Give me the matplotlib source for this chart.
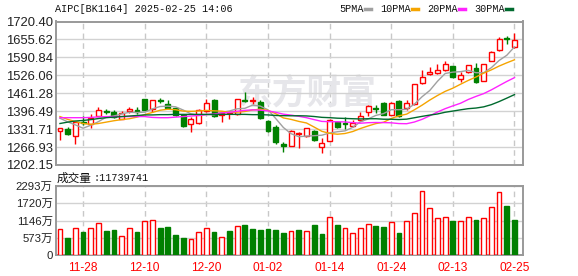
import numpy as np
import pandas as pd
import matplotlib
matplotlib.use("Agg")
import matplotlib.pyplot as plt

# daily OHLC, 60 sessions ending 2025-02-25
opens = [1326, 1331, 1306, 1356, 1350, 1380, 1398, 1394, 1368, 1396,
         1400, 1440, 1403, 1437, 1421, 1407, 1383, 1350, 1353, 1397,
         1437, 1383, 1389, 1385, 1438, 1433, 1431, 1361, 1340, 1277,
         1272, 1313, 1308, 1325, 1268, 1290, 1356, 1354, 1344, 1365,
         1393, 1407, 1425, 1383, 1433, 1407, 1421, 1497, 1530, 1535,
         1545, 1560, 1513, 1537, 1551, 1507, 1579, 1617, 1660, 1627]
highs = [1336, 1340, 1357, 1378, 1385, 1411, 1404, 1401, 1396, 1413,
         1410, 1440, 1437, 1445, 1437, 1410, 1386, 1377, 1405, 1440,
         1440, 1391, 1397, 1442, 1465, 1449, 1437, 1365, 1346, 1286,
         1327, 1322, 1337, 1330, 1299, 1367, 1360, 1374, 1365, 1395,
         1419, 1419, 1428, 1428, 1436, 1437, 1495, 1545, 1556, 1566,
         1577, 1561, 1538, 1565, 1570, 1568, 1613, 1663, 1669, 1678]
lows = [1292, 1312, 1277, 1348, 1335, 1378, 1385, 1371, 1367, 1389,
        1385, 1400, 1392, 1425, 1409, 1380, 1340, 1323, 1352, 1395,
        1377, 1357, 1367, 1383, 1431, 1422, 1368, 1320, 1278, 1250,
        1270, 1265, 1305, 1290, 1247, 1288, 1335, 1331, 1341, 1362,
        1380, 1389, 1382, 1381, 1377, 1401, 1419, 1495, 1527, 1531,
        1543, 1517, 1503, 1535, 1500, 1505, 1577, 1615, 1639, 1624]
closes = [1335, 1313, 1356, 1353, 1372, 1400, 1394, 1377, 1389, 1403,
          1394, 1402, 1436, 1432, 1409, 1383, 1343, 1368, 1401, 1425,
          1379, 1389, 1392, 1440, 1434, 1437, 1371, 1325, 1284, 1271,
          1325, 1317, 1335, 1292, 1280, 1365, 1339, 1351, 1355, 1380,
          1417, 1403, 1384, 1426, 1379, 1425, 1494, 1519, 1539, 1545,
          1566, 1519, 1527, 1563, 1502, 1566, 1611, 1656, 1657, 1654]

# volume in 万 shares, r = red bar, g = green bar
volume = [863, 575, 896, 764, 896, 1085, 808, 830, 631, 919,
          764, 1129, 1162, 896, 930, 664, 575, 531, 764, 896,
          764, 598, 808, 953, 996, 874, 841, 863, 841, 735,
          797, 830, 797, 996, 697, 1251, 996, 919, 753, 919,
          1029, 963, 930, 1096, 741, 1151, 1384, 2115, 1550, 1218,
          1251, 1129, 1151, 1251, 1162, 1218, 1584, 2082, 1627, 1174]
vol_colors = "rgrgrrggrrgrrggggrrrgrgrggggggrgrggrgrrrrggrgrrrrrrgrrgrrrgg"

# moving-average values before the window fills (earlier sessions not shown)
ma_heads = {
    5: [1371, 1358, 1347, 1335],
    10: [1377, 1367, 1359, 1352, 1349, 1352, 1357, 1362, 1366],
    20: [1373, 1373, 1373, 1373, 1374, 1376, 1377, 1377, 1377, 1377,
         1377, 1377, 1374, 1373, 1373, 1375, 1377, 1379, 1381],
    30: [1352, 1357, 1361, 1363, 1366, 1370, 1373, 1375, 1377, 1379,
         1381, 1383, 1383, 1384, 1384, 1385, 1385, 1385, 1385, 1385,
         1385, 1385, 1385, 1385, 1385, 1384, 1384, 1383, 1381],
}
ma_labels = ["5PMA", "10PMA", "20PMA", "30PMA"]
ma_colors = ["#a0a0a0", "#f5a400", "#ff22ff", "#006a2e"]

price_ticks = [1202.15, 1266.93, 1331.71, 1396.49, 1461.28,
               1526.06, 1590.84, 1655.62, 1720.40]
vol_ticks = [0, 573, 1146, 1720, 2293]
vol_tick_labels = ["0", "573万", "1146万", "1720万", "2293万"]
date_labels = ["11-28", "12-10", "12-20", "01-02", "01-14", "01-24", "02-13", "02-25"]

title = "AIPC[BK1164] 2025-02-25 14:06"
vol_total = "11739741"

RED = "#ff0000"
GREEN = "#008000"
W, H = 578, 276

fig = plt.figure(figsize=(W / 100, H / 100), dpi=100)
ax = fig.add_axes([55.5 / W, 1 - 165 / H, 467 / W, 143.5 / H])
axv = fig.add_axes([55.5 / W, 1 - 255.3 / H, 467 / W, 69.3 / H])

n = len(closes)
x = np.arange(n)
cl = pd.Series(closes, dtype=float)

date_pos = list(range(3, n, 8))

for a in (ax, axv):
	for s in a.spines.values():
		s.set_color("#999999")
		s.set_linewidth(1.4)
	a.set_xlim(-0.58, 60.04)
	a.grid(axis="y", color="#d2d2d2", lw=1, zorder=0)
	for p in date_pos:
		a.axvline(p, color="#c8c8c8", lw=1, ls=(0, (4, 3)), zorder=0)
	a.tick_params(length=0, colors="#222222")
	a.set_axisbelow(True)

# watermark
ax.text(0.54, 0.5, "东方财富", transform=ax.transAxes, ha="center", va="center",
        fontsize=25, color="#e6e6ea", family="Noto Sans CJK SC", weight="bold", zorder=0)

# candles
for i in range(n):
	o, h, l, c = opens[i], highs[i], lows[i], closes[i]
	up = c >= o
	col = RED if up else GREEN
	ax.vlines(i, l, h, color=col, lw=1, zorder=2)
	ax.bar(i, max(abs(c - o), 1.2), bottom=min(o, c), width=0.64,
	       facecolor="white" if up else GREEN, edgecolor=col, lw=1, zorder=3)

# moving averages
for (period, head), col in zip(ma_heads.items(), ma_colors):
	ma = cl.rolling(period).mean()
	ma.iloc[:period - 1] = head
	ax.plot(x, ma.values, color=col, lw=1, zorder=4)

ax.set_ylim(price_ticks[0], price_ticks[-1])
ax.set_yticks(price_ticks)
ax.set_yticklabels([f"{t:.2f}" for t in price_ticks], family="Liberation Sans", fontsize=9.4)
ax.tick_params(axis="y", pad=2)
ax.set_xticks(date_pos)
ax.set_xticklabels([])

# volume
for i in range(n):
	up = vol_colors[i] == "r"
	col = RED if up else GREEN
	axv.bar(i, volume[i], width=0.62, facecolor="white" if up else GREEN,
	        edgecolor=col, lw=1, zorder=3)
axv.set_ylim(0, vol_ticks[-1])
axv.set_yticks(vol_ticks)
axv.set_yticklabels(vol_tick_labels, family=["Liberation Sans", "Noto Sans CJK SC"], fontsize=8.2)
axv.tick_params(axis="y", pad=2)
axv.set_xticks(date_pos)
axv.set_xticklabels(date_labels, family="Liberation Sans", fontsize=8.6, color=RED)
axv.tick_params(axis="x", pad=5, colors=RED)

# header texts
mono = "Liberation Mono"
fig.text(55 / W, 1 - 8.5 / H, title, family=mono, fontsize=7.3, va="center", color="#111111")
fig.text(57 / W, 1 - 178 / H, "成交量", family="Noto Sans CJK SC", fontsize=8.4, va="center", color="#111111")
fig.text(93 / W, 1 - 178 / H, ":" + vol_total, family=mono, fontsize=7.3, va="center", color="#111111")

lx = 339
for lab, col in zip(ma_labels, ma_colors):
	fig.text(lx / W, 1 - 8.5 / H, lab, family=mono, fontsize=7.3, va="center", color="#111111")
	lx += len(lab) * 6 + 2
	fig.add_artist(plt.Line2D([lx / W, (lx + 6) / W], [1 - 8.5 / H] * 2, color=col, lw=2.5))
	lx += 15

fig.savefig("out.png", dpi=100)
